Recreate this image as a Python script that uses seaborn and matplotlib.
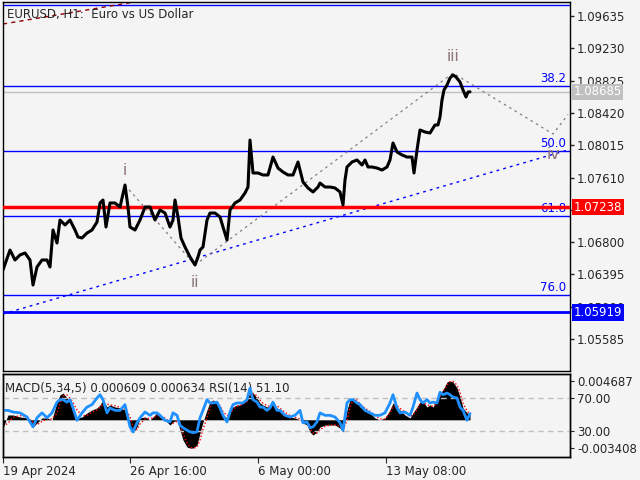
import numpy as np
import pandas as pd
import matplotlib.pyplot as plt
import seaborn as sns

# bar position (chart x) and close price
price_points = [
    (3, 1.06451), (10, 1.06701), (15, 1.06576), (20, 1.06639), (25, 1.06664), (30, 1.06576),
    (33, 1.06262), (37, 1.06488), (42, 1.06576), (47, 1.06576), (50, 1.06488), (53, 1.06952),
    (57, 1.06789), (60, 1.07077), (65, 1.07015), (70, 1.07077), (75, 1.06952), (78, 1.06864),
    (82, 1.06852), (87, 1.06914), (92, 1.06952), (97, 1.07052), (100, 1.07291), (103, 1.07328),
    (106, 1.06990), (110, 1.07291), (115, 1.07291), (120, 1.07240), (125, 1.07516), (128, 1.07240),
    (130, 1.06990), (135, 1.06952), (140, 1.07077), (145, 1.07240), (150, 1.07240), (155, 1.07077),
    (160, 1.07203), (165, 1.07165), (170, 1.06990), (173, 1.07077), (175, 1.07328), (178, 1.07115),
    (181, 1.06852), (185, 1.06739), (190, 1.06614), (195, 1.06513), (198, 1.06614), (200, 1.06701),
    (203, 1.06739), (207, 1.07077), (210, 1.07165), (215, 1.07165), (220, 1.07115), (223, 1.06990),
    (227, 1.06827), (230, 1.07203), (235, 1.07291), (240, 1.07328), (245, 1.07416), (248, 1.07491),
    (250, 1.08080), (253, 1.07667), (258, 1.07667), (263, 1.07642), (268, 1.07642), (273, 1.07867),
    (278, 1.07729), (283, 1.07679), (288, 1.07642), (293, 1.07642), (298, 1.07805), (303, 1.07554),
    (308, 1.07479), (313, 1.07429), (318, 1.07491), (320, 1.07541), (325, 1.07491), (330, 1.07491),
    (335, 1.07479), (340, 1.07429), (343, 1.07266), (345, 1.07579), (347, 1.07742), (352, 1.07805),
    (357, 1.07830), (362, 1.07767), (365, 1.07830), (368, 1.07742), (372, 1.07742), (377, 1.07729),
    (382, 1.07704), (387, 1.07742), (390, 1.07830), (393, 1.08043), (397, 1.07930), (402, 1.07893),
    (407, 1.07867), (412, 1.07867), (414, 1.07667), (417, 1.07955), (420, 1.08206), (425, 1.08181),
    (430, 1.08168), (435, 1.08269), (438, 1.08269), (440, 1.08369), (442, 1.08582), (444, 1.08708),
    (447, 1.08770), (450, 1.08858), (453, 1.08896), (456, 1.08871), (460, 1.08808), (463, 1.08708),
    (466, 1.08620), (468, 1.08682), (470, 1.08685),
]

macd_points = [
    (3, -0.00099), (8, 0.00058), (13, 0.00058), (20, 0.00034), (27, 0.00022), (33, -0.00087),
    (37, -0.00039), (42, 0.00022), (47, 0.00022), (52, -0.00002), (57, 0.00215), (60, 0.00300),
    (63, 0.00324), (67, 0.00263), (70, 0.00215), (73, 0.00143), (77, 0.00022), (82, 0.00034),
    (87, 0.00082), (92, 0.00118), (97, 0.00143), (100, 0.00179), (103, 0.00239), (107, 0.00155),
    (110, 0.00179), (115, 0.00155), (120, 0.00143), (125, 0.00118), (130, -0.00087), (133, -0.00159),
    (137, -0.00087), (140, 0.00022), (145, 0.00034), (150, -0.00002), (153, 0.00034), (157, 0.00082),
    (160, 0.00034), (165, -0.00002), (170, -0.00063), (173, -0.00027), (177, -0.00002), (180, -0.00123),
    (183, -0.00244), (187, -0.00329), (190, -0.00341), (193, -0.00341), (197, -0.00304), (200, -0.00159),
    (203, -0.00027), (207, 0.00118), (210, 0.00215), (213, 0.00239), (217, 0.00203), (220, 0.00118),
    (223, 0.00058), (227, 0.00022), (230, 0.00118), (233, 0.00155), (237, 0.00179), (240, 0.00179),
    (243, 0.00203), (247, 0.00239), (250, 0.00336), (253, 0.00324), (257, 0.00263), (260, 0.00203),
    (263, 0.00179), (267, 0.00155), (270, 0.00155), (273, 0.00203), (277, 0.00143), (280, 0.00118),
    (285, 0.00058), (290, 0.00034), (295, 0.00022), (300, -0.00002), (303, -0.00039), (307, -0.00063),
    (310, -0.00147), (313, -0.00184), (317, -0.00147), (320, -0.00087), (325, -0.00063), (330, -0.00063),
    (335, -0.00063), (340, -0.00099), (343, -0.00147), (347, 0.00118), (350, 0.00239), (353, 0.00263),
    (357, 0.00215), (360, 0.00155), (365, 0.00118), (370, 0.00082), (375, 0.00022), (380, -0.00002),
    (385, 0.00022), (390, 0.00118), (393, 0.00203), (397, 0.00155), (400, 0.00118), (405, 0.00058),
    (410, 0.00022), (413, 0.00082), (417, 0.00155), (420, 0.00215), (423, 0.00215), (427, 0.00155),
    (430, 0.00179), (433, 0.00155), (437, 0.00239), (440, 0.00324), (443, 0.00360), (447, 0.00457),
    (450, 0.00469), (453, 0.00457), (457, 0.00384), (460, 0.00275), (463, 0.00143), (467, 0.00082),
    (470, 0.00061),
]

signal_points = [
    (3, -0.00080), (8, -0.00040), (13, 0.00030), (20, 0.00050), (27, 0.00030), (33, -0.00030),
    (37, -0.00060), (42, -0.00020), (47, 0.00010), (52, 0.00010), (57, 0.00080), (60, 0.00200),
    (63, 0.00290), (67, 0.00300), (70, 0.00260), (73, 0.00210), (77, 0.00120), (82, 0.00050),
    (87, 0.00050), (92, 0.00090), (97, 0.00120), (100, 0.00150), (103, 0.00190), (107, 0.00190),
    (110, 0.00180), (115, 0.00170), (120, 0.00150), (125, 0.00130), (130, 0.00040), (133, -0.00080),
    (137, -0.00120), (140, -0.00050), (145, 0.00010), (150, 0.00020), (153, 0.00020), (157, 0.00050),
    (160, 0.00050), (165, 0.00020), (170, -0.00030), (173, -0.00040), (177, -0.00020), (180, -0.00070),
    (183, -0.00170), (187, -0.00280), (190, -0.00330), (193, -0.00345), (197, -0.00330), (200, -0.00250),
    (203, -0.00110), (207, 0.00020), (210, 0.00150), (213, 0.00220), (217, 0.00220), (220, 0.00170),
    (223, 0.00100), (227, 0.00050), (230, 0.00070), (233, 0.00130), (237, 0.00160), (240, 0.00175),
    (243, 0.00190), (247, 0.00220), (250, 0.00290), (253, 0.00320), (257, 0.00290), (260, 0.00240),
    (263, 0.00200), (267, 0.00170), (270, 0.00160), (273, 0.00180), (277, 0.00170), (280, 0.00140),
    (285, 0.00090), (290, 0.00050), (295, 0.00030), (300, 0.00010), (303, -0.00020), (307, -0.00050),
    (310, -0.00110), (313, -0.00160), (317, -0.00160), (320, -0.00120), (325, -0.00080), (330, -0.00065),
    (335, -0.00060), (340, -0.00080), (343, -0.00120), (347, -0.00010), (350, 0.00150), (353, 0.00240),
    (357, 0.00240), (360, 0.00190), (365, 0.00140), (370, 0.00100), (375, 0.00050), (380, 0.00010),
    (385, 0.00010), (390, 0.00080), (393, 0.00160), (397, 0.00170), (400, 0.00140), (405, 0.00090),
    (410, 0.00040), (413, 0.00060), (417, 0.00120), (420, 0.00190), (423, 0.00210), (427, 0.00180),
    (430, 0.00170), (433, 0.00165), (437, 0.00200), (440, 0.00280), (443, 0.00340), (447, 0.00420),
    (450, 0.00460), (453, 0.00465), (457, 0.00420), (460, 0.00330), (463, 0.00200), (467, 0.00110),
    (470, 0.00063),
]

rsi_points = [
    (3, 55), (8, 55), (13, 53), (20, 52), (27, 47), (33, 35), (37, 46), (42, 52), (47, 46), (52, 52),
    (57, 65), (60, 68), (63, 68), (67, 65), (70, 68), (73, 58), (77, 43), (82, 52), (87, 59), (92, 62),
    (97, 70), (100, 74), (103, 68), (107, 52), (110, 58), (115, 55), (120, 55), (125, 62), (130, 35),
    (133, 29), (137, 40), (140, 46), (145, 53), (150, 49), (153, 52), (157, 52), (160, 49), (165, 43),
    (170, 41), (173, 52), (177, 49), (180, 37), (183, 34), (187, 31), (190, 29), (193, 28), (197, 29),
    (200, 46), (203, 55), (207, 68), (210, 64), (213, 64), (217, 65), (220, 58), (223, 49), (227, 41),
    (230, 53), (233, 62), (237, 64), (240, 64), (243, 64), (247, 68), (250, 82), (253, 68), (257, 65),
    (260, 59), (263, 59), (267, 55), (270, 58), (273, 65), (277, 55), (280, 55), (285, 49), (290, 47),
    (295, 49), (300, 55), (303, 40), (307, 41), (310, 34), (313, 35), (317, 41), (320, 52), (325, 49),
    (330, 49), (335, 47), (340, 40), (343, 31), (347, 64), (350, 68), (353, 68), (357, 64), (360, 62),
    (365, 55), (370, 52), (375, 49), (380, 49), (385, 52), (390, 64), (393, 74), (397, 58), (400, 52),
    (405, 53), (410, 49), (413, 59), (417, 76), (420, 68), (423, 64), (427, 68), (430, 64), (433, 65),
    (437, 64), (440, 77), (443, 74), (447, 76), (450, 74), (453, 71), (457, 70), (460, 59), (463, 55),
    (467, 43), (470, 51.1),
]

# fibo retracement levels and other horizontal lines
fib_labels = ["38.2", "50.0", "61.8", "76.0"]
fib_prices = [1.08758, 1.07943, 1.07128, 1.06137]
fib_top = 1.09773
red_level = 1.07238
blue_level = 1.05919
last_price = 1.08685

# elliott wave zigzag and labels
wave_bars = [125, 195, 453, 553, 568]
wave_prices = [1.07516, 1.06513, 1.08920, 1.08156, 1.08400]
label_text = ["i", "ii", "iii", "iv"]
label_bars = [125, 195, 453, 553]
label_prices = [1.07700, 1.06290, 1.09125, 1.07905]

# trend lines (two anchor points each)
blue_trend_bars = [3, 568]
blue_trend_prices = [1.05899, 1.07955]
red_trend_bars = [3, 140]
red_trend_prices = [1.09535, 1.09823]

price_ticks = [1.09635, 1.09230, 1.08825, 1.08420, 1.08015, 1.07610, 1.07205,
               1.06800, 1.06395, 1.05990, 1.05585]
date_bars = [3, 130, 258, 386]
date_labels = ["19 Apr 2024", "26 Apr 16:00", "6 May 00:00", "13 May 08:00"]

sns.set_style("ticks")
plt.rcParams['font.family'] = ['DejaVu Sans']
bg = '#f4f4f4'

fig = plt.figure(figsize=(6.4, 4.8), dpi=100, facecolor=bg)
ax = fig.add_axes([3/640, 1 - 371/480, 567/640, 369/480])
ax.set_facecolor(bg)

price_df = pd.DataFrame(price_points, columns=['bar', 'close'])
sns.lineplot(data=price_df, x='bar', y='close', ax=ax, color='black', lw=2.2, zorder=5)

# horizontal levels
ax.axhline(fib_top, color='#0000ff', lw=1)
for lab, p in zip(fib_labels, fib_prices):
    ax.axhline(p, color='#0000ff', lw=1)
    ax.text(566, p + 0.0001, lab, color='#0000ff', fontsize=8.5, ha='right', va='bottom')
ax.axhline(last_price, color='#c0c0c0', lw=1)
ax.axhline(red_level, color='#ff0000', lw=2.5, zorder=4)
ax.axhline(blue_level, color='#0000ff', lw=2, zorder=4)

# trend lines
ax.plot(blue_trend_bars, blue_trend_prices, color='#0000ff', lw=1, ls=(0, (2, 3)))
ax.plot(red_trend_bars, red_trend_prices, color='#8b0000', lw=1, ls=(0, (3, 3)))

# wave zigzag
ax.plot(wave_bars, wave_prices, color='#808080', lw=0.9, ls=(0, (2, 3)), zorder=3)
for t, b, p in zip(label_text, label_bars, label_prices):
    ax.text(b, p, t, color='#8c7474', fontsize=11, ha='center', va='center', zorder=6)

ax.set_xlim(3, 570)
ax.set_ylim(1.05184, 1.09811)
ax.yaxis.tick_right()
ax.set_yticks(price_ticks)
ax.set_yticklabels([f"{t:.5f}" for t in price_ticks], fontsize=8.5)
ax.tick_params(axis='y', direction='out', length=3, width=1, pad=2)
ax.set_xticks([])
ax.set_xlabel('')
ax.set_ylabel('')
for s in ax.spines.values():
    s.set_color('black')
    s.set_linewidth(1)

ax.text(0.007, 0.985, "EURUSD, H1:  Euro vs US Dollar", transform=ax.transAxes,
        fontsize=8.5, va='top', ha='left')

# price tags on the scale
tag_tr = ax.get_yaxis_transform()
for p, c in [(last_price, '#c0c0c0'), (red_level, '#ff0000'), (blue_level, '#0000ff')]:
    ax.text(1.006, p, f"{p:.5f}", transform=tag_tr, color='white', fontsize=8.5,
            ha='left', va='center', clip_on=False, zorder=10,
            bbox=dict(boxstyle='square,pad=0.15', facecolor=c, edgecolor='none'))

# indicator window: MACD + RSI
ax2 = fig.add_axes([3/640, 1 - 457/480, 567/640, 83/480])
ax2.set_facecolor(bg)
ax3 = ax2.twinx()

macd_df = pd.DataFrame(macd_points, columns=['bar', 'macd'])
sig_df = pd.DataFrame(signal_points, columns=['bar', 'signal'])
rsi_df = pd.DataFrame(rsi_points, columns=['bar', 'rsi'])

ax2.fill_between(macd_df['bar'], macd_df['macd'], 0, color='black', lw=0)
sns.lineplot(data=sig_df, x='bar', y='signal', ax=ax2, color='#ff0000', lw=1, ls=(0, (1, 1.5)))
ax2.set_xlim(3, 570)
ax2.set_ylim(-0.004495, 0.005533)
ax2.yaxis.tick_right()
ax2.set_yticks([0.004687, -0.003408])
ax2.set_yticklabels(["0.004687", "-0.003408"], fontsize=8.5)
ax2.tick_params(axis='y', direction='out', length=3, pad=2)
ax2.set_xticks(date_bars)
ax2.set_xticklabels(date_labels, fontsize=8.5, ha='left')
ax2.tick_params(axis='x', direction='out', length=4, pad=2)
ax2.set_xlabel('')
ax2.set_ylabel('')

ax3.axhline(70, color='#c0c0c0', lw=1, ls=(0, (4, 3)))
ax3.axhline(30, color='#c0c0c0', lw=1, ls=(0, (4, 3)))
sns.lineplot(data=rsi_df, x='bar', y='rsi', ax=ax3, color='#1e90ff', lw=2)
ax3.set_ylim(-1.5, 99.1)
ax3.yaxis.tick_right()
ax3.set_yticks([70, 30])
ax3.set_yticklabels(["70.00", "30.00"], fontsize=8.5)
ax3.tick_params(axis='y', direction='out', length=3, pad=2)
ax3.set_ylabel('')
for a in (ax2, ax3):
    for s in a.spines.values():
        s.set_color('black')
        s.set_linewidth(1)

ax2.text(0.004, 0.9, "MACD(5,34,5) 0.000609 0.000634 RSI(14) 51.10", transform=ax2.transAxes,
         fontsize=8.5, va='top', ha='left', zorder=10)

fig.savefig('out.png', dpi=100, facecolor=bg)
